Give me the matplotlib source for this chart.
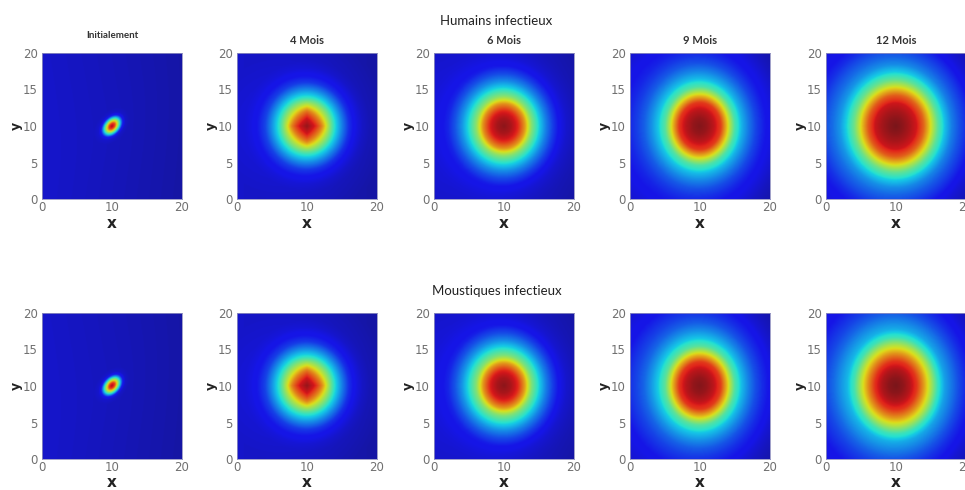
import numpy as np
import matplotlib
matplotlib.use("Agg")
import matplotlib.pyplot as plt
from matplotlib import font_manager
from matplotlib.colors import ListedColormap

# ---------------- data ----------------
row_titles = ["Humains infectieux", "Moustiques infectieux"]
panel_titles = ["Initialement", "4 Mois", "6 Mois", "9 Mois", "12 Mois"]
x_ticks = [0, 10, 20]
y_ticks = [0, 5, 10, 15, 20]
center = [10, 10]

# radial distance from the centre (grid units) at which profile values are read
radius_fine = [0, 0.3, 0.6, 0.9, 1.2, 1.5, 2.0, 14]
radius = [0, 1, 2, 3, 4, 5, 6, 7, 8, 9, 10, 11, 12, 13, 14]

# colour level (0..1 of the colormap) along the radius
hum_init = [0.93, 0.84, 0.60, 0.34, 0.12, 0.06, 0.045, 0.04]
hum_4 = [0.95, 0.88, 0.74, 0.55, 0.36, 0.25, 0.15, 0.10, 0.07, 0.055, 0.05, 0.045, 0.04, 0.04, 0.04]
hum_6 = [0.96, 0.93, 0.87, 0.72, 0.50, 0.35, 0.25, 0.17, 0.11, 0.08, 0.065, 0.055, 0.05, 0.045, 0.04]
hum_9 = [0.97, 0.95, 0.91, 0.84, 0.64, 0.42, 0.31, 0.24, 0.18, 0.14, 0.11, 0.09, 0.07, 0.055, 0.045]
hum_12 = [0.98, 0.96, 0.93, 0.89, 0.79, 0.63, 0.45, 0.33, 0.25, 0.20, 0.16, 0.12, 0.09, 0.07, 0.055]

mos_init = [0.93, 0.84, 0.60, 0.34, 0.12, 0.06, 0.045, 0.04]
mos_4 = [0.95, 0.88, 0.74, 0.55, 0.36, 0.25, 0.15, 0.10, 0.07, 0.055, 0.05, 0.045, 0.04, 0.04, 0.04]
mos_6 = [0.96, 0.93, 0.87, 0.71, 0.49, 0.35, 0.25, 0.17, 0.11, 0.08, 0.065, 0.055, 0.05, 0.045, 0.04]
mos_9 = [0.97, 0.95, 0.91, 0.84, 0.65, 0.43, 0.32, 0.25, 0.19, 0.15, 0.12, 0.09, 0.07, 0.055, 0.045]
mos_12 = [0.98, 0.96, 0.92, 0.85, 0.72, 0.57, 0.39, 0.29, 0.24, 0.19, 0.15, 0.12, 0.09, 0.07, 0.055]

# vertical / diagonal elongation of each blob
hum_stretch = [1.5, 1.0, 1.03, 1.08, 1.06]
mos_stretch = [1.5, 1.0, 1.03, 1.08, 1.1]

# faint left-to-right background shading
bg_x = [0, 20]
bg_level = [0.04, 0.0]

rows = [
    [hum_init, hum_4, hum_6, hum_9, hum_12],
    [mos_init, mos_4, mos_6, mos_9, mos_12],
]
stretches = [hum_stretch, mos_stretch]

# ---------------- fonts ----------------
def have(name):
    try:
        font_manager.findfont(name, fallback_to_default=False)
        return True
    except Exception:
        return False

tick_font = "Liberation Sans Narrow" if have("Liberation Sans Narrow") else "DejaVu Sans"
text_font = "Lato" if have("Lato") else "DejaVu Sans"

# ---------------- colormap ----------------
jet = plt.get_cmap("jet")(np.linspace(0, 1, 256))[:, :3]
soft = jet * 0.8 + 0.2 * np.array([0.42, 0.42, 0.52])
cmap = ListedColormap(soft)

# ---------------- figure ----------------
W, H = 965, 490
fig = plt.figure(figsize=(W / 100, H / 100), dpi=100)

col_left = [42, 237, 434, 630, 826]
row_top = [53, 313]
ax_w, ax_h = 140, 146
xlabel_base = [29, 28]

n = 201
gx = np.linspace(0, 20, n)
X, Y = np.meshgrid(gx, gx)

for r in range(2):
    for c in range(5):
        left = col_left[c] / W
        bottom = 1 - (row_top[r] + ax_h) / H
        ax = fig.add_axes([left, bottom, ax_w / W, ax_h / H])
        prof = rows[r][c]
        s = stretches[r][c]
        dx = X - center[0]
        dy = Y - center[1]
        if c == 0:
            u = (dx + dy) / np.sqrt(2)
            v = (dx - dy) / np.sqrt(2)
            d = np.sqrt((u / s) ** 2 + v ** 2)
            vals = np.interp(d, radius_fine, prof)
        else:
            d = np.sqrt(dx ** 2 + (dy / s) ** 2)
            if c == 1:
                d1 = (np.abs(dx) + np.abs(dy)) / np.sqrt(2)
                w = np.clip(1 - d / 3.5, 0, 1)
                d = w * d1 * 1.12 + (1 - w) * d
            vals = np.interp(d, radius, prof)
        vals = vals + np.interp(X, bg_x, bg_level)
        ax.imshow(vals, origin="lower", extent=[0, 20, 0, 20], cmap=cmap,
                  vmin=0, vmax=1, aspect="auto", interpolation="bilinear")
        ax.set_xlim(0, 20)
        ax.set_ylim(0, 20)
        ax.set_xticks(x_ticks)
        ax.set_yticks(y_ticks)
        ax.tick_params(length=0, labelsize=8.5, labelcolor="#707070")
        ax.tick_params(axis="x", pad=1.5)
        ax.tick_params(axis="y", pad=3)
        for lab in ax.get_xticklabels() + ax.get_yticklabels():
            lab.set_fontfamily(tick_font)
        for sp in ax.spines.values():
            sp.set_color("#9090c0")
            sp.set_linewidth(0.6)
        ax.set_xlabel("x", fontsize=11, fontweight="bold", color="#222222",
                      family="DejaVu Sans", va="baseline")
        ax.xaxis.set_label_coords(0.5, -xlabel_base[r] / ax_h)
        ax.set_ylabel("y", fontsize=9, fontweight="bold", color="#222222",
                      family="DejaVu Sans", va="center")
        ax.yaxis.set_label_coords(-26 / ax_w, 0.5)
        if r == 0:
            if c == 0:
                ax.text(0.5, 1 + 18 / ax_h, panel_titles[c], transform=ax.transAxes,
                        ha="center", va="center", fontsize=7, fontweight="bold",
                        color="#333333", family=text_font)
            else:
                ax.text(0.5, 1 + 13 / ax_h, panel_titles[c], transform=ax.transAxes,
                        ha="center", va="center", fontsize=8, fontweight="bold",
                        color="#333333", family=text_font)

fig.text(496 / W, 1 - 21 / H, row_titles[0], ha="center", va="center",
         fontsize=9.5, color="#222222", family=text_font)
fig.text(497 / W, 1 - 291 / H, row_titles[1], ha="center", va="center",
         fontsize=9.5, color="#222222", family=text_font)

fig.savefig("out.png", dpi=100, facecolor="white")
